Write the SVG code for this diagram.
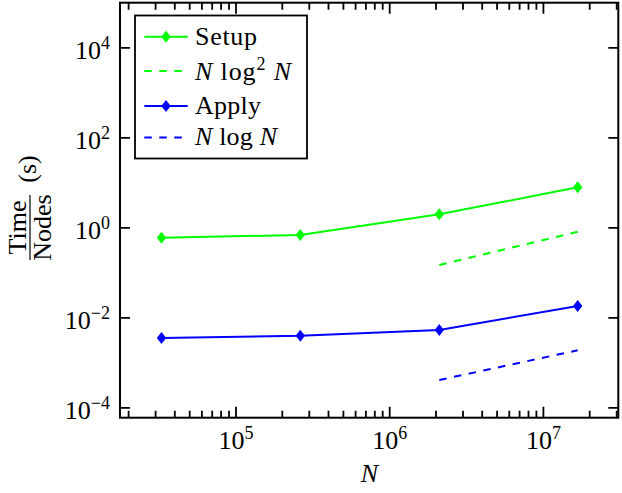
<svg xmlns="http://www.w3.org/2000/svg" xmlns:xlink="http://www.w3.org/1999/xlink" width="622" height="493" viewBox="0 0 622 493">
<style>
text{font-family:"Liberation Serif","Times New Roman",serif;font-size:26px;fill:#000}
.sup{font-size:18px}
.it{font-style:italic}
.tick{stroke:#000;stroke-width:1.8;fill:none}
.frame{stroke:#000;stroke-width:2;fill:none}
.green{stroke:#00ff00;stroke-width:2;fill:none}
.blue{stroke:#0000ff;stroke-width:2;fill:none}
.dash{stroke-dasharray:7.5 7.5}
</style>
<defs>
<path id="dia" d="M0,-6 L4.7,0 L0,6 L-4.7,0 Z"/>
</defs>
<rect width="622" height="493" fill="#fff"/>
<g id="axes">
<rect class="frame" x="120" y="2.7" width="498.3" height="415"/>
<path class="tick" d="M120,47.8h10M120,137.8h10M120,227.8h10M120,317.8h10M120,407.8h10M618.3,47.8h-10M618.3,137.8h-10M618.3,227.8h-10M618.3,317.8h-10M618.3,407.8h-10"/>
<path class="tick" d="M236,417.7v-11M389.7,417.7v-11M543.4,417.7v-11M236,2.7v11M389.7,2.7v11M543.4,2.7v11"/>
<path class="tick" d="M128.6,417.7v-7M155.6,417.7v-7M174.8,417.7v-7M189.7,417.7v-7M201.9,417.7v-7M212.2,417.7v-7M221.1,417.7v-7M229,417.7v-7M282.3,417.7v-7M309.3,417.7v-7M328.5,417.7v-7M343.4,417.7v-7M355.6,417.7v-7M365.9,417.7v-7M374.8,417.7v-7M382.7,417.7v-7M436,417.7v-7M463,417.7v-7M482.2,417.7v-7M497.1,417.7v-7M509.3,417.7v-7M519.6,417.7v-7M528.5,417.7v-7M536.4,417.7v-7M589.7,417.7v-7M616.7,417.7v-7"/>
<path class="tick" d="M128.6,2.7v7M155.6,2.7v7M174.8,2.7v7M189.7,2.7v7M201.9,2.7v7M212.2,2.7v7M221.1,2.7v7M229,2.7v7M282.3,2.7v7M309.3,2.7v7M328.5,2.7v7M343.4,2.7v7M355.6,2.7v7M365.9,2.7v7M374.8,2.7v7M382.7,2.7v7M436,2.7v7M463,2.7v7M482.2,2.7v7M497.1,2.7v7M509.3,2.7v7M519.6,2.7v7M528.5,2.7v7M536.4,2.7v7M589.7,2.7v7M616.7,2.7v7"/>
</g>
<g id="ytick-labels" text-anchor="end">
<text x="110" y="59">10<tspan class="sup" dy="-10">4</tspan></text>
<text x="110" y="149">10<tspan class="sup" dy="-10">2</tspan></text>
<text x="110" y="239">10<tspan class="sup" dy="-10">0</tspan></text>
<text x="110" y="329">10<tspan class="sup" dy="-10">−2</tspan></text>
<text x="110" y="419">10<tspan class="sup" dy="-10">−4</tspan></text>
</g>
<g id="xtick-labels" text-anchor="middle">
<text x="236" y="448.5">10<tspan class="sup" dy="-10">5</tspan></text>
<text x="389.7" y="448.5">10<tspan class="sup" dy="-10">6</tspan></text>
<text x="543.4" y="448.5">10<tspan class="sup" dy="-10">7</tspan></text>
</g>
<g id="xlabel"><text class="it" x="369.5" y="482" text-anchor="middle">N</text></g>
<g id="ylabel">
<text transform="translate(26,227.5) rotate(-90)" text-anchor="middle">Time</text>
<line x1="30" y1="195" x2="30" y2="260" stroke="#000" stroke-width="1.2"/>
<text transform="translate(50.5,227.5) rotate(-90)" text-anchor="middle">Nodes</text>
<text transform="translate(36,169) rotate(-90)" text-anchor="middle">(s)</text>
</g>
<g id="connectors">
<polyline id="setup" class="green" points="161.5,237.7 300.3,235 439.3,214.3 577.7,187.3"/>
<line id="setup-ref" class="green dash" x1="439.3" y1="265" x2="577.7" y2="231.7"/>
<polyline id="apply" class="blue" points="161.5,338 300.3,335.7 439.3,330 577.7,306"/>
<line id="apply-ref" class="blue dash" x1="439.3" y1="380" x2="577.7" y2="350.3"/>
</g>
<g id="markers-setup" fill="#00ff00">
<use xlink:href="#dia" x="161.5" y="237.7"/>
<use xlink:href="#dia" x="300.3" y="235"/>
<use xlink:href="#dia" x="439.3" y="214.3"/>
<use xlink:href="#dia" x="577.7" y="187.3"/>
</g>
<g id="markers-apply" fill="#0000ff">
<use xlink:href="#dia" x="161.5" y="338"/>
<use xlink:href="#dia" x="300.3" y="335.7"/>
<use xlink:href="#dia" x="439.3" y="330"/>
<use xlink:href="#dia" x="577.7" y="306"/>
</g>
<g id="legend">
<rect x="135" y="15.5" width="172" height="143" fill="#fff" stroke="#000" stroke-width="1.8"/>
<line class="green" x1="144.3" y1="36.7" x2="187.7" y2="36.7"/>
<use xlink:href="#dia" x="166" y="36.7" fill="#00ff00"/>
<text x="195" y="44.5" textLength="62" lengthAdjust="spacing">Setup</text>
<line class="green dash" x1="144.3" y1="71" x2="187.7" y2="71"/>
<text x="195" y="79.5" textLength="96" lengthAdjust="spacing"><tspan class="it">N</tspan> log<tspan class="sup" dy="-10">2</tspan><tspan dy="10"> </tspan><tspan class="it">N</tspan></text>
<line class="blue" x1="144.3" y1="106" x2="187.7" y2="106"/>
<use xlink:href="#dia" x="166" y="106" fill="#0000ff"/>
<text x="195" y="114" textLength="66" lengthAdjust="spacing">Apply</text>
<line class="blue dash" x1="144.3" y1="137.5" x2="187.7" y2="137.5"/>
<text x="195" y="144.5" textLength="82" lengthAdjust="spacing"><tspan class="it">N</tspan> log <tspan class="it">N</tspan></text>
</g>
</svg>
